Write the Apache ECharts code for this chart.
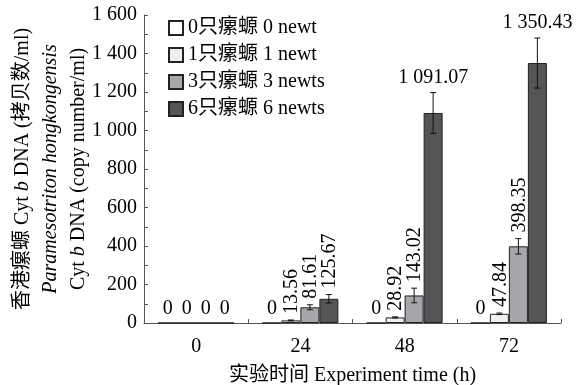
<!DOCTYPE html>
<html><head><meta charset="utf-8">
<script src="https://cdn.jsdelivr.net/npm/echarts@6/dist/echarts.min.js"></script>
<style>html,body{margin:0;padding:0;background:#fff}#c{width:581px;height:385px}</style>
</head><body><div id="c"></div>
<script>
const categories = ['0', '24', '48', '72'];
const seriesNames = ['0只瘰螈 0 newt', '1只瘰螈 1 newt', '3只瘰螈 3 newts', '6只瘰螈 6 newts'];
const newt0 = [0, 0, 0, 0];
const newt1 = [0, 13.56, 28.92, 47.84];
const newt3 = [0, 81.61, 143.02, 398.35];
const newt6 = [0, 125.67, 1091.07, 1350.43];
const err0 = [0, 0, 0, 0];
const err1 = [0, 2, 3, 4];
const err3 = [0, 13, 38, 40];
const err6 = [0, 22, 106, 130];
const yMin = 0, yMax = 1600, yStep = 200;

const values = [newt0, newt1, newt3, newt6];
const errors = [err0, err1, err3, err6];
const colors = ['#ffffff', '#efefef', '#a7a6ab', '#565456'];
const FONT = "Liberation Serif, Noto Sans CJK SC, serif";
const FS = 20;
const BW = 19;

function fmt(v) {
  const s = v.toFixed(2);
  let [i, d] = s.split('.');
  i = i.replace(/\B(?=(\d{3})+(?!\d))/g, ' ');
  return v === 0 ? '0' : i + '.' + d;
}
function fmtTick(v) { return String(v).replace(/\B(?=(\d{3})+(?!\d))/g, ' '); }

function makeRender(gi) {
  return function (params, api) {
    const ci = api.value(0), v = api.value(1), e = api.value(2);
    const base = api.coord([ci, v]);
    const x = base[0] + (gi - 1.5) * BW;
    const children = [];
    let topY = base[1];
    const ls = { stroke: '#111', lineWidth: 1 };
    if (e > 0) {
      const hi = api.coord([ci, v + e])[1], lo = api.coord([ci, v - e])[1];
      children.push({ type: 'line', shape: { x1: x, y1: hi, x2: x, y2: lo }, style: ls });
      children.push({ type: 'line', shape: { x1: x - 3, y1: hi, x2: x + 3, y2: hi }, style: ls });
      children.push({ type: 'line', shape: { x1: x - 3, y1: lo, x2: x + 3, y2: lo }, style: ls });
      topY = hi;
    }
    const font = FS + 'px ' + FONT;
    if (v === 0) {
      children.push({ type: 'text', x: x, y: base[1] - 4, style: { text: '0', align: 'center', verticalAlign: 'bottom', font: font, fill: '#000' } });
    } else if (v >= 1000) {
      children.push({ type: 'text', x: x, y: topY - 5, style: { text: fmt(v), align: 'center', verticalAlign: 'bottom', font: font, fill: '#000' } });
    } else {
      children.push({ type: 'text', x: x + 1, y: topY - 6, rotation: Math.PI / 2, style: { text: fmt(v), align: 'left', verticalAlign: 'middle', font: font, fill: '#000' } });
    }
    return { type: 'group', children: children };
  };
}

const series = [];
for (let g = 0; g < 4; g++) {
  series.push({
    name: seriesNames[g], type: 'bar', data: values[g], barWidth: BW, barGap: '0%',
    itemStyle: { color: colors[g], borderColor: '#222', borderWidth: 1 },
    emphasis: { disabled: true }, z: 2
  });
}
for (let g = 0; g < 4; g++) {
  series.push({
    type: 'custom', renderItem: makeRender(g), z: 5, silent: true,
    encode: { x: 0, y: 1 },
    data: categories.map((c, j) => [j, values[g][j], errors[g][j]])
  });
}

const chart = echarts.init(document.getElementById('c'), null, { renderer: 'canvas' });
chart.setOption({
  animation: false,
  backgroundColor: '#fff',
  textStyle: { fontFamily: FONT, color: '#000' },
  grid: { left: 144, right: 20, top: 15, bottom: 62, containLabel: false, outerBoundsMode: 'none' },
  legend: {
    data: seriesNames, orient: 'vertical', left: 168, top: 18, padding: 0,
    itemWidth: 14, itemHeight: 14, itemGap: 7,
    icon: 'rect',
    textStyle: { fontFamily: FONT, fontSize: FS, color: '#000' }
  },
  xAxis: {
    type: 'category', data: categories,
    axisLine: { lineStyle: { color: '#555', width: 1 } },
    axisTick: { show: true, inside: true, length: 4, lineStyle: { color: '#555' } },
    axisLabel: { fontFamily: FONT, fontSize: FS, color: '#000', margin: 14 },
    name: '实验时间 Experiment time (h)', nameLocation: 'middle', nameGap: 43,
    nameMoveOverlap: false,
    nameTextStyle: { fontFamily: FONT, fontSize: FS, color: '#000' }
  },
  yAxis: {
    type: 'value', min: yMin, max: yMax, interval: yStep,
    axisLine: { show: true, lineStyle: { color: '#555', width: 1 } },
    axisTick: { show: true, inside: true, length: 4, lineStyle: { color: '#555' } },
    minorTick: { show: true, splitNumber: 2, length: 4, lineStyle: { color: '#555' } },
    splitLine: { show: false },
    axisLabel: { fontFamily: FONT, fontSize: FS, color: '#000', margin: 7, formatter: fmtTick },
    name: '香港瘰螈 Cyt {i|b} DNA (拷贝数/ml)\n{i|Paramesotriton hongkongensis}\nCyt {i|b} DNA (copy number/ml)',
    nameLocation: 'middle', nameRotate: 90, nameGap: 51,
    nameMoveOverlap: false,
    nameTextStyle: {
      fontFamily: FONT, fontSize: FS, color: '#000', lineHeight: 28,
      rich: { i: { fontFamily: FONT, fontSize: FS, fontStyle: 'italic', lineHeight: 28 } }
    }
  },
  series: series
});
</script></body></html>
